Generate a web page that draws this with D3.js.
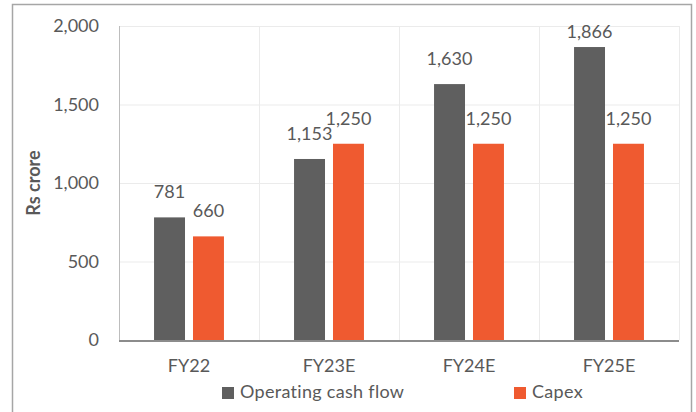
<!DOCTYPE html>
<html><head><meta charset="utf-8">
<script src="https://cdn.jsdelivr.net/npm/d3@7"></script>
<style>body{margin:0;background:#fff}svg{display:block}text{font-family:Lato,"Open Sans",sans-serif;fill:#595959}</style>
</head><body>
<script>
const categories = ["FY22", "FY23E", "FY24E", "FY25E"];
const seriesNames = ["Operating cash flow", "Capex"];
const operatingCashFlow = [781, 1153, 1630, 1866];
const capex = [660, 1250, 1250, 1250];
const yTicks = [0, 500, 1000, 1500, 2000];
const colors = ["#5f5f5f", "#ef5a30"];

const W = 696, H = 412;
const svg = d3.select("body").append("svg").attr("width", W).attr("height", H);

// outer frame
svg.append("path").attr("d", `M12.5,${H+2}V4.5H691.5V${H+2}`).attr("fill","none").attr("stroke","#a6a6a6").attr("stroke-width",1.5);

const pLeft = 119, pRight = 679, pTop = 26, pBottom = 340;
const x = d3.scaleBand().domain(categories).range([pLeft, pRight]).paddingInner(0).paddingOuter(0);
const y = d3.scaleLinear().domain([0, 2000]).range([pBottom, pTop]);
const xs = d3.scaleBand().domain(seriesNames).range([0, x.bandwidth()]).paddingInner(0.205).paddingOuter(0.9);

// grid
const g = svg.append("g");
g.selectAll("line.h").data(yTicks).join("line")
  .attr("x1", pLeft).attr("x2", pRight).attr("y1", d => y(d)+0.5).attr("y2", d => y(d)+0.5)
  .attr("stroke", "#ebebeb").attr("stroke-width", 1);
const bounds = categories.map(c => x(c)).concat([pRight]);
g.selectAll("line.v").data(bounds).join("line")
  .attr("x1", d => d+0.5).attr("x2", d => d+0.5).attr("y1", pTop).attr("y2", pBottom)
  .attr("stroke", d => d === pLeft ? "#bdbdbd" : "#ebebeb");

// y axis labels
const yAxis = d3.axisLeft(y).tickValues(yTicks).tickSize(0).tickPadding(20).tickFormat(d3.format(","));
const ya = svg.append("g").attr("transform", `translate(${pLeft},0)`).call(yAxis);
ya.select(".domain").remove();
ya.selectAll("text").attr("font-size", 18).style("fill", "#595959").attr("font-family", "Lato");

// bars
const data = categories.map((c, i) => ({c, vals: [operatingCashFlow[i], capex[i]]}));
const grp = svg.selectAll("g.cat").data(data).join("g").attr("transform", d => `translate(${x(d.c)},0)`);
grp.selectAll("rect").data(d => d.vals.map((v, j) => ({v, s: seriesNames[j], j}))).join("rect")
  .attr("x", d => xs(d.s)).attr("width", xs.bandwidth())
  .attr("y", d => y(d.v)).attr("height", d => y(0) - y(d.v))
  .attr("fill", d => colors[d.j]);
grp.selectAll("text").data(d => d.vals.map((v, j) => ({v, s: seriesNames[j], j}))).join("text")
  .attr("x", d => xs(d.s) + xs.bandwidth()/2)
  .attr("y", d => Math.max(y(d.v) - 19, pTop + 12))
  .attr("text-anchor", "middle").attr("font-size", 18)
  .text(d => d3.format(",")(d.v));

// baseline
svg.append("line").attr("x1", pLeft).attr("x2", pRight).attr("y1", pBottom+1).attr("y2", pBottom+1)
  .attr("stroke", "#8c8c8c").attr("stroke-width", 2);

// x axis labels
const xAxis = d3.axisBottom(x).tickSize(0).tickPadding(19);
const xa = svg.append("g").attr("transform", `translate(0,${pBottom})`).call(xAxis);
xa.select(".domain").remove();
xa.selectAll("text").attr("font-size", 18).style("fill", "#595959").attr("font-family", "Lato");

// y title
svg.append("text").attr("transform", "translate(40,183) rotate(-90)")
  .attr("text-anchor", "middle").attr("font-size", 18).attr("font-weight", "bold").text("Rs crore");

// legend
const legX = [222, 514];
const leg = svg.selectAll("g.leg").data(seriesNames).join("g").attr("transform", (d, i) => `translate(${legX[i]},387)`);
leg.append("rect").attr("width", 12).attr("height", 12).attr("fill", (d, i) => colors[i]);
leg.append("text").attr("x", 18).attr("y", 11).attr("font-size", 18).attr("letter-spacing", 0.3).text(d => d);
</script>
</body></html>
